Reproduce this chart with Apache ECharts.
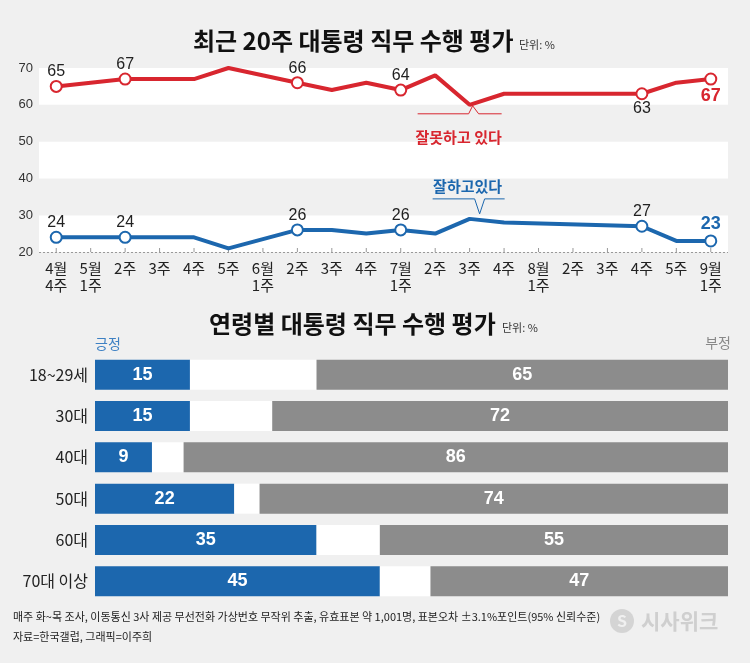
<!DOCTYPE html>
<html><head><meta charset="utf-8">
<script src="https://cdn.jsdelivr.net/npm/echarts@6/dist/echarts.min.js"></script>
<style>html,body{margin:0;padding:0;background:#f0f0f0}#c{width:750px;height:663px}</style>
</head><body><div id="c"></div>
<script>
// ---- data: weekly approval ----
const weekLabels = ['4월\n4주','5월\n1주','2주','3주','4주','5주','6월\n1주','2주','3주','4주','7월\n1주','2주','3주','4주','8월\n1주','2주','3주','4주','5주','9월\n1주'];
const negativeRating = [65,null,67,67,67,70,null,66,64,66,64,68,60,63,null,null,null,63,66,67];
const positiveRating = [24,null,24,24,24,21,null,26,26,25,26,25,29,28,null,null,null,27,23,23];
const labeledWeeks = [0,2,7,10,17,19];
const yMin = 20, yMax = 70, yStep = 10;

// ---- data: by age ----
const ageGroups = ['18~29세','30대','40대','50대','60대','70대 이상'];
const agePositive = [15,15,9,22,35,45];
const ageNegative = [65,72,86,74,55,47];
const ageNeutral = ageGroups.map((_, i) => 100 - agePositive[i] - ageNegative[i]);

const RED = '#d8262f', BLUE = '#1c67ae', GRAY = '#8c8c8c', BG = '#f0f0f0';
const KR = '"Noto Sans CJK KR", sans-serif';
const NUM = '"Liberation Sans Narrow", "Liberation Sans", sans-serif';

function lineData(vals, color, lastBelow, otherBelow) {
  return vals.map((v, i) => {
    if (!labeledWeeks.includes(i) || v == null) return v;
    const last = i === vals.length - 1;
    const below = last ? lastBelow : otherBelow.includes(i);
    return {
      value: v,
      label: {
        show: true,
        position: below ? 'bottom' : 'top',
        distance: last ? 1 : 0,
        color: last ? color : '#222',
        fontWeight: last ? 'bold' : 'normal',
        fontSize: last ? 18 : 16,
        fontFamily: NUM
      }
    };
  });
}

const chart = echarts.init(document.getElementById('c'), null, {renderer: 'canvas'});
const option = {
  backgroundColor: BG,
  animation: false,
  grid: [
    {left: 39, right: 22, top: 68, height: 184, containLabel: false},
    {left: 95, right: 22, top: 354, height: 248, containLabel: false}
  ],
  xAxis: [
    {
      type: 'category', gridIndex: 0, data: weekLabels, boundaryGap: true,
      axisLine: {show: false},
      axisTick: {show: false},
      axisLabel: {color: '#222', fontSize: 15, fontFamily: KR, lineHeight: 17, margin: 8, interval: 0}
    },
    {type: 'value', gridIndex: 1, min: 0, max: 100, show: false}
  ],
  yAxis: [
    {
      type: 'value', gridIndex: 0, min: yMin, max: yMax, interval: yStep,
      axisLine: {show: false}, axisTick: {show: false},
      axisLabel: {color: '#333', fontSize: 13, fontFamily: NUM, margin: 6},
      splitLine: {show: false},
      splitArea: {show: true, areaStyle: {color: ['#ffffff', BG]}}
    },
    {
      type: 'category', gridIndex: 1, data: ageGroups, inverse: true,
      axisLine: {show: false}, axisTick: {show: false},
      axisLabel: {color: '#222', fontSize: 16, fontFamily: KR, margin: 7}
    }
  ],
  series: [
    {
      type: 'line', xAxisIndex: 0, yAxisIndex: 0, data: [], silent: true,
      markLine: {
        silent: true, symbol: 'none', label: {show: false},
        lineStyle: {color: '#999', type: [2, 2], width: 1},
        data: [{yAxis: yMin}]
      }
    },
    {
      name: '잘못하고 있다', type: 'line', xAxisIndex: 0, yAxisIndex: 0,
      data: lineData(negativeRating, RED, true, [17]),
      connectNulls: true, color: RED,
      lineStyle: {color: RED, width: 4},
      symbol: 'circle',
      symbolSize: (v, p) => labeledWeeks.includes(p.dataIndex) ? 11 : 0,
      itemStyle: {color: '#fff', borderColor: RED, borderWidth: 2},
      z: 5
    },
    {
      name: '잘하고있다', type: 'line', xAxisIndex: 0, yAxisIndex: 0,
      data: lineData(positiveRating, BLUE, false, []),
      connectNulls: true, color: BLUE,
      lineStyle: {color: BLUE, width: 4},
      symbol: 'circle',
      symbolSize: (v, p) => labeledWeeks.includes(p.dataIndex) ? 11 : 0,
      itemStyle: {color: '#fff', borderColor: BLUE, borderWidth: 2},
      z: 5
    },
    {
      name: '긍정', type: 'bar', xAxisIndex: 1, yAxisIndex: 1, stack: 'age', barWidth: 30,
      data: agePositive, itemStyle: {color: BLUE},
      label: {show: true, position: 'inside', color: '#fff', fontWeight: 'bold', fontSize: 18, fontFamily: NUM}
    },
    {
      name: '없음', type: 'bar', xAxisIndex: 1, yAxisIndex: 1, stack: 'age', barWidth: 30,
      data: ageNeutral, itemStyle: {color: '#ffffff'}, label: {show: false}
    },
    {
      name: '부정', type: 'bar', xAxisIndex: 1, yAxisIndex: 1, stack: 'age', barWidth: 30,
      data: ageNegative, itemStyle: {color: GRAY},
      label: {show: true, position: 'inside', color: '#fff', fontWeight: 'bold', fontSize: 18, fontFamily: NUM}
    }
  ]
};
chart.setOption(option);

const g = [];
weekLabels.forEach((_, i) => {
  const p = chart.convertToPixel({xAxisIndex: 0, yAxisIndex: 0}, [i, yMin]);
  g.push({type: 'line', id: 'tk' + i, silent: true,
    shape: {x1: p[0], y1: p[1] - 4, x2: p[0], y2: p[1]},
    style: {stroke: '#999', lineWidth: 1}});
});
const r = chart.convertToPixel({xAxisIndex: 0, yAxisIndex: 0}, [12, negativeRating[12]]);
const b = chart.convertToPixel({xAxisIndex: 0, yAxisIndex: 0}, [12, positiveRating[12]]);
g.push(
  {type: 'polyline', id: 'rc', silent: true, z: 10,
   shape: {points: [[r[0]-52, r[1]+9],[r[0]-1, r[1]+9],[r[0]+3, r[1]+1],[r[0]+9, r[1]+9],[r[0]+32, r[1]+9]]},
   style: {stroke: RED, lineWidth: 1, fill: null}},
  {type: 'text', id: 'rt', silent: true, z: 10,
   style: {x: r[0]-11, y: r[1]+32, text: '잘못하고 있다', fill: RED, font: 'bold 15px ' + KR, textAlign: 'center', textVerticalAlign: 'middle'}},
  {type: 'polyline', id: 'bc', silent: true, z: 10,
   shape: {points: [[b[0]-37, b[1]-20],[b[0]+5, b[1]-20],[b[0]+10, b[1]-5],[b[0]+15, b[1]-20],[b[0]+35, b[1]-20]]},
   style: {stroke: BLUE, lineWidth: 1, fill: null}},
  {type: 'text', id: 'bt', silent: true, z: 10,
   style: {x: b[0]-2, y: b[1]-33, text: '잘하고있다', fill: BLUE, font: 'bold 15px ' + KR, textAlign: 'center', textVerticalAlign: 'middle'}},
  {type: 'text', id: 't1', silent: true,
   style: {x: 193, y: 41, text: '최근 20주 대통령 직무 수행 평가', fill: '#111', font: 'bold 24px ' + KR, textVerticalAlign: 'middle'}},
  {type: 'text', id: 'u1', silent: true,
   style: {x: 519, y: 45, text: '단위: %', fill: '#333', font: '11px ' + KR, textVerticalAlign: 'middle'}},
  {type: 'text', id: 't2', silent: true,
   style: {x: 209, y: 324, text: '연령별 대통령 직무 수행 평가', fill: '#111', font: 'bold 24px ' + KR, textVerticalAlign: 'middle'}},
  {type: 'text', id: 'u2', silent: true,
   style: {x: 502, y: 328, text: '단위: %', fill: '#333', font: '11px ' + KR, textVerticalAlign: 'middle'}},
  {type: 'text', id: 'pos', silent: true,
   style: {x: 95, y: 344, text: '긍정', fill: '#3d80c3', font: '14px ' + KR, textVerticalAlign: 'middle'}},
  {type: 'text', id: 'neg', silent: true,
   style: {x: 731, y: 343, text: '부정', fill: '#888', font: '14px ' + KR, textAlign: 'right', textVerticalAlign: 'middle'}},
  {type: 'text', id: 'f1', silent: true,
   style: {x: 13, y: 617, text: '매주 화~목 조사, 이동통신 3사 제공 무선전화 가상번호 무작위 추출, 유효표본 약 1,001명, 표본오차 ±3.1%포인트(95% 신뢰수준)', fill: '#222', font: '11px ' + KR, textVerticalAlign: 'middle'}},
  {type: 'text', id: 'f2', silent: true,
   style: {x: 13, y: 637, text: '자료=한국갤럽, 그래픽=이주희', fill: '#222', font: '11px ' + KR, textVerticalAlign: 'middle'}},
  {type: 'circle', id: 'lg0', silent: true, shape: {cx: 622, cy: 621, r: 12}, style: {fill: '#d4d4d4'}},
  {type: 'text', id: 'lg1', silent: true,
   style: {x: 622, y: 621, text: 'S', fill: BG, font: 'bold 16px ' + KR, textAlign: 'center', textVerticalAlign: 'middle'}},
  {type: 'text', id: 'lg2', silent: true,
   style: {x: 641, y: 621, text: '시사위크', fill: '#cfcfcf', font: 'bold 21px ' + KR, textVerticalAlign: 'middle'}}
);
chart.setOption({graphic: g});
</script></body></html>
